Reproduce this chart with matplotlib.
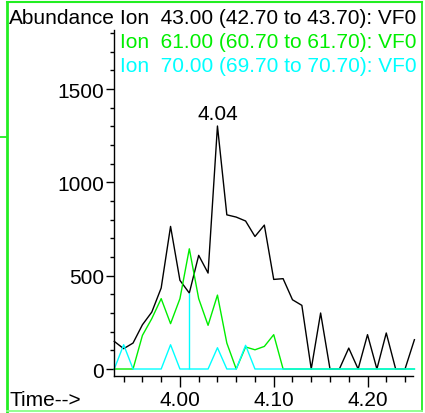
import numpy as np
import matplotlib.pyplot as plt
from matplotlib.ticker import MultipleLocator, FixedLocator
from matplotlib.lines import Line2D

plt.rcParams['font.family'] = ['Liberation Sans', 'DejaVu Sans']

# retention times, one scan every 0.01 min
times = [3.93, 3.94, 3.95, 3.96, 3.97, 3.98, 3.99, 4.00, 4.01, 4.02, 4.03,
         4.04, 4.05, 4.06, 4.07, 4.08, 4.09, 4.10, 4.11, 4.12, 4.13, 4.14,
         4.15, 4.16, 4.17, 4.18, 4.19, 4.20, 4.21, 4.22, 4.23, 4.24, 4.25]
ion43 = [148, 109, 139, 237, 305, 434, 764, 475, 407, 609, 514,
         1302, 826, 814, 793, 710, 771, 480, 484, 371, 341, 0,
         300, 0, 0, 112, 0, 184, 0, 193, 0, 0, 157]
ion61 = [0, 0, 0, 180, 270, 377, 243, 377, 644, 377, 234,
         396, 139, 0, 118, 103, 121, 184, 0, 0, 0, 0,
         0, 0, 0, 0, 0, 0, 0, 0, 0, 0, 0]
ion70 = [0, 130, 0, 0, 0, 0, 130, 0, 0, 0, 0,
         114, 0, 0, 127, 0, 0, 0, 0, 0, 0, 0,
         0, 0, 0, 0, 0, 0, 0, 0, 0, 0, 0]
# cyan marker drop line
marker_time = 4.01
marker_height = 407

labels = ['Ion  43.00 (42.70 to 43.70): VF0',
          'Ion  61.00 (60.70 to 61.70): VF0',
          'Ion  70.00 (69.70 to 70.70): VF0']
colors = ['black', '#00ee00', '#00ffff']

W, H = 425, 414
fig = plt.figure(figsize=(W / 100, H / 100), dpi=100)
ax = fig.add_axes([114 / W, 1 - 377 / H, (413 - 114) / W, (377 - 30.7) / H])

fs = 15
lw = 1.0
for ys, c in zip([ion43, ion61, ion70], colors):
    ax.plot(times, ys, color=c, lw=lw, clip_on=False)
ax.vlines(marker_time, 0, marker_height, color=colors[2], lw=lw)

# label the apex of the main trace
i = int(np.argmax(ion43))
ax.annotate(f'{times[i]:.2f}', xy=(times[i], ion43[i]), xytext=(0, 2),
            textcoords='offset points', ha='center', va='bottom', fontsize=fs)

ax.set_xlim(3.9297, 4.2485)
ax.set_ylim(-37.5, 1818)
ax.xaxis.set_major_locator(FixedLocator([4.00, 4.10, 4.20]))
ax.xaxis.set_minor_locator(MultipleLocator(0.02))
ax.yaxis.set_major_locator(FixedLocator([0, 500, 1000, 1500]))
ax.yaxis.set_minor_locator(MultipleLocator(100))
ax.xaxis.set_major_formatter(lambda v, p: f'{v:.2f}')
ax.yaxis.set_major_formatter(lambda v, p: f'{v:.0f}')

for s in ['top', 'right']:
    ax.spines[s].set_visible(False)
for s in ['left', 'bottom']:
    ax.spines[s].set_linewidth(1.0)
ax.tick_params(which='major', length=6, width=1.0, labelsize=fs, pad=1)
ax.tick_params(axis='x', which='major', length=8, pad=2)
ax.tick_params(which='minor', length=4, width=1.0)
ax.tick_params(axis='y', which='minor', length=3)

fig.text(9 / W, 1 - 18 / H, 'Abundance', fontsize=fs, va='center', ha='left')
fig.text(9 / W, 1 - 401 / H, 'Time-->', fontsize=fs, va='center', ha='left')
for k, (lab, c) in enumerate(zip(labels, colors)):
    fig.text(120 / W, 1 - (18 + 24.5 * k) / H, lab, color=c, fontsize=fs,
             va='center', ha='left')

# green frame around the panel
frame = '#22ee22'
fig.add_artist(Line2D([7 / W, 421.5 / W], [1 - 3 / H, 1 - 3 / H], color=frame, lw=1.5))
fig.add_artist(Line2D([7 / W, 7 / W], [1 - 3 / H, 0], color=frame, lw=2.0))
fig.add_artist(Line2D([421.5 / W, 421.5 / W], [1 - 3 / H, 1 - 411.5 / H], color=frame, lw=1.3))
fig.add_artist(Line2D([7 / W, 421.5 / W], [1 - 411.5 / H, 1 - 411.5 / H], color='#88ff88', lw=1.3))
fig.add_artist(Line2D([0, 7 / W], [1 - 137.5 / H, 1 - 137.5 / H], color=frame, lw=1.3))

fig.savefig('out.png', dpi=100)
